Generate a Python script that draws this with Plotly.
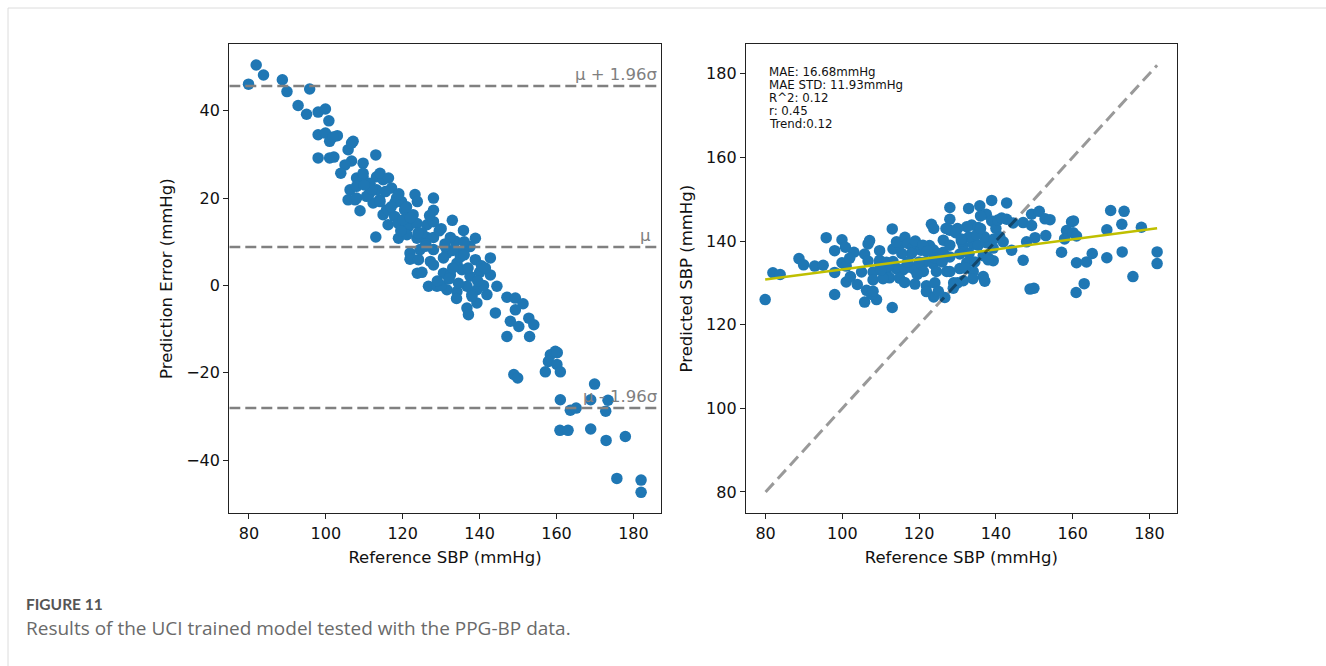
import numpy as np
import plotly.graph_objects as go

# ---------------- data ----------------
ref_sbp = [
    79.9, 81.9, 83.8, 88.7, 89.9, 95.8, 92.8, 95.0, 98.0, 99.9, 100.8, 98.0, 99.9, 101.0, 103.0,
    101.9, 107.1, 105.8, 106.7, 98.0, 101.0, 102.1, 106.7, 105.0, 113.0, 109.7, 103.9, 108.0, 108.9,
    106.3, 105.8, 108.0, 109.7, 111.4, 113.2, 114.9, 114.0, 115.8, 107.6, 112.3, 109.7, 114.1, 116.3,
    111.5, 113.2, 117.1, 108.0, 110.6, 114.1, 118.4, 119.7, 123.2, 123.8, 128.0, 114.9, 116.2, 117.9,
    120.5, 122.7, 128.0, 116.2, 118.9, 121.5, 123.7, 126.3, 128.0, 132.9, 113.0, 118.9, 121.1, 123.7,
    126.3, 128.0, 135.8, 138.9, 133.7, 132.4,
    121.9, 124.5, 128.0, 131.5, 135.4, 137.5, 121.9, 124.1, 127.2, 130.6, 134.1, 138.9, 142.8, 123.8,
    128.0, 130.6, 132.4, 135.4, 137.5, 142.8, 126.7, 128.9, 131.5, 134.1, 136.7, 139.3, 141.9, 144.5,
    136.7, 139.3, 144.1,
    147.1, 149.3, 151.3, 149.3, 148.0, 150.2, 152.8, 154.1, 147.1, 153.0, 137.1, 158.4, 159.7, 157.9,
    160.1, 157.1, 161.0, 148.9, 149.9, 161.0, 160.2, 169.9, 168.9, 173.4, 172.8, 163.6, 165.1, 160.9,
    163.0, 168.9, 172.9, 177.9, 175.7, 182.0, 182.0,
    118.0, 120.0, 125.0, 127.0, 130.0, 133.0, 136.0, 140.0, 141.0, 137.0, 133.0, 125.0, 130.0, 134.0,
    138.0, 119.0, 121.0, 112.0, 110.0, 126.0, 131.0, 129.0, 135.0, 140.5,
    117.0, 119.5, 122.0, 124.0, 126.0, 129.5, 131.0, 132.0, 134.5, 136.0, 138.0, 139.5, 141.5, 115.5,
]
pred_error = [
    46.1, 50.5, 48.2, 47.1, 44.4, 45.0, 41.2, 39.2, 39.7, 40.4, 37.7, 34.5, 34.9, 33.0, 34.3,
    34.0, 33.0, 31.1, 32.6, 29.2, 29.2, 29.4, 28.5, 27.6, 29.9, 28.0, 25.7, 24.6, 17.1,
    21.9, 19.6, 22.7, 24.9, 21.1, 24.9, 24.2, 19.6, 17.3, 19.6, 18.9, 25.7, 25.7, 24.6,
    23.4, 21.9, 22.3, 20.0, 20.4, 19.2, 20.0, 19.2, 20.8, 19.2, 20.0, 16.2, 17.3, 15.8,
    17.3, 16.2, 17.2, 13.9, 14.2, 13.5, 14.2, 13.9, 14.6, 14.9, 11.1, 10.8, 11.6, 10.8,
    11.0, 11.0, 12.6, 10.8, 10.1, 11.0,
    7.4, 8.2, 8.2, 7.4, 7.8, 8.9, 6.0, 5.9, 5.5, 6.3, 5.1, 5.9, 6.3, 2.8,
    4.7, 2.8, 2.4, 3.6, 2.1, 2.4, -0.2, -0.2, -1.0, -1.4, -0.2, -1.0, -2.1, -0.2,
    -5.2, -4.0, -6.3,
    -2.7, -2.9, -4.2, -5.6, -8.2, -9.4, -7.5, -9.0, -11.7, -11.7, -6.7, -15.9, -15.1, -17.4,
    -18.1, -19.8, -19.8, -20.4, -21.2, -26.2, -15.4, -22.6, -26.2, -26.3, -28.8, -28.6, -28.1, -33.2,
    -33.2, -32.9, -35.5, -34.6, -44.2, -44.6, -47.4,
    19.0, 15.0, 12.0, 16.0, 13.0, 8.0, 10.0, 3.0, 0.0, 4.0, 4.0, 3.0, 0.0, -3.0,
    -2.0, 21.0, 18.0, 22.0, 23.0, 9.5, 9.0, 1.0, 6.5, 4.5,
    18.0, 12.5, 15.5, 12.0, 9.0, 12.5, 9.5, 1.5, 0.5, 7.0, -2.5, 1.0, 4.0, 21.5,
]

mean_error = 8.8
loa_upper = 45.7
loa_lower = -28.1

trend_slope = 0.12
trend_intercept = 121.2

stats_lines = ["MAE: 16.68mmHg", "MAE STD: 11.93mmHg", "R^2: 0.12", "r: 0.45", "Trend:0.12"]
x_ticks = [80, 100, 120, 140, 160, 180]
err_ticks = [-40, -20, 0, 20, 40]
pred_ticks = [80, 100, 120, 140, 160, 180]

ref_arr = np.array(ref_sbp)
err_arr = np.array(pred_error)
pred_arr = ref_arr + err_arr

# ---------------- figure ----------------
W, H = 1326, 666
BLUE = "#1f77b4"
FONT = "DejaVu Sans"

def px(x):
    return x / W

def py(y):
    return 1 - y / H

x_lo, x_hi = 74.9, 187.1

fig = go.Figure()

fig.add_trace(go.Scatter(x=ref_arr, y=err_arr, mode="markers", xaxis="x", yaxis="y",
                         marker=dict(color=BLUE, size=11.5, line=dict(width=0)), showlegend=False))
for lvl in (loa_upper, mean_error, loa_lower):
    fig.add_trace(go.Scatter(x=[x_lo, x_hi], y=[lvl, lvl], mode="lines", xaxis="x", yaxis="y",
                             line=dict(color="#808080", width=2.5, dash="11px,5px"), showlegend=False))

fig.add_trace(go.Scatter(x=ref_arr, y=pred_arr, mode="markers", xaxis="x2", yaxis="y2",
                         marker=dict(color=BLUE, size=11.5, line=dict(width=0)), showlegend=False))
tx = np.array([ref_arr.min(), ref_arr.max()])
fig.add_trace(go.Scatter(x=tx, y=trend_slope * tx + trend_intercept, mode="lines", xaxis="x2", yaxis="y2",
                         line=dict(color="#bfbf00", width=2.5), showlegend=False))
fig.add_trace(go.Scatter(x=[80, 182], y=[80, 182], mode="lines", xaxis="x2", yaxis="y2",
                         line=dict(color="rgba(0,0,0,0.4)", width=3, dash="12px,6px"), showlegend=False))

axis_common = dict(showgrid=False, zeroline=False, showline=True, linecolor="#222", linewidth=1.3,
                   mirror=True, ticks="outside", ticklen=5, tickwidth=1.2, tickcolor="#222",
                   tickfont=dict(family=FONT, size=16, color="#111"))
title_font = dict(family=FONT, size=16.5, color="#111")

fig.update_layout(
    width=W, height=H, margin=dict(l=0, r=0, t=0, b=0),
    paper_bgcolor="white", plot_bgcolor="white",
    xaxis=dict(domain=[px(229.3), px(660.7)], anchor="y", range=[x_lo, x_hi], tickvals=x_ticks,
               title=dict(text="Reference SBP (mmHg)", font=title_font, standoff=9),
               **axis_common),
    yaxis=dict(domain=[py(513.3), py(44)], anchor="x", range=[-52.2, 55.3], tickvals=err_ticks,
               title=dict(text="Prediction Error (mmHg)", font=title_font, standoff=9),
               **axis_common),
    xaxis2=dict(domain=[px(746), px(1176.7)], anchor="y2", range=[x_lo, x_hi], tickvals=x_ticks,
                title=dict(text="Reference SBP (mmHg)", font=title_font, standoff=9),
                **axis_common),
    yaxis2=dict(domain=[py(513.3), py(44)], anchor="x2", range=[74.9, 187.1], tickvals=pred_ticks,
                title=dict(text="Predicted SBP (mmHg)", font=title_font, standoff=9),
                **axis_common),
)

annos = []
annos.append(dict(x=x_hi, y=loa_upper, xref="x", yref="y", text="μ + 1.96σ", showarrow=False,
                  xanchor="right", yanchor="bottom", xshift=-2,
                  font=dict(family=FONT, size=16.5, color="#808080")))
annos.append(dict(x=x_hi, y=mean_error, xref="x", yref="y", text="μ", showarrow=False,
                  xanchor="right", yanchor="bottom", xshift=-8,
                  font=dict(family=FONT, size=16.5, color="#808080")))
annos.append(dict(x=x_hi, y=loa_lower, xref="x", yref="y", text="μ - 1.96σ", showarrow=False,
                  xanchor="right", yanchor="bottom", xshift=-2,
                  font=dict(family=FONT, size=16.5, color="#808080")))
for i, line in enumerate(stats_lines):
    annos.append(dict(x=px(767), y=py(72 + 13 * i), xref="paper", yref="paper", text=line, showarrow=False,
                      xanchor="left", yanchor="middle", font=dict(family=FONT, size=11.8, color="#111")))

annos.append(dict(x=px(24), y=py(604), xref="paper", yref="paper", text="<b>FIGURE 11</b>", showarrow=False,
                  xanchor="left", yanchor="middle",
                  font=dict(family="Lato", size=15.5, color="#555555")))
annos.append(dict(x=px(24), y=py(628), xref="paper", yref="paper",
                  text="Results of the UCI trained model tested with the PPG-BP data.", showarrow=False,
                  xanchor="left", yanchor="middle", font=dict(family="Open Sans", size=19, color="#6a6a6a")))
fig.update_layout(annotations=annos)

fig.update_layout(shapes=[
    dict(type="line", xref="paper", yref="paper", x0=px(8), x1=1, y0=py(8), y1=py(8),
         line=dict(color="#dcdcdc", width=1)),
    dict(type="line", xref="paper", yref="paper", x0=px(8), x1=px(8), y0=py(8), y1=0,
         line=dict(color="#dcdcdc", width=1)),
])

fig.write_html("out.html")
